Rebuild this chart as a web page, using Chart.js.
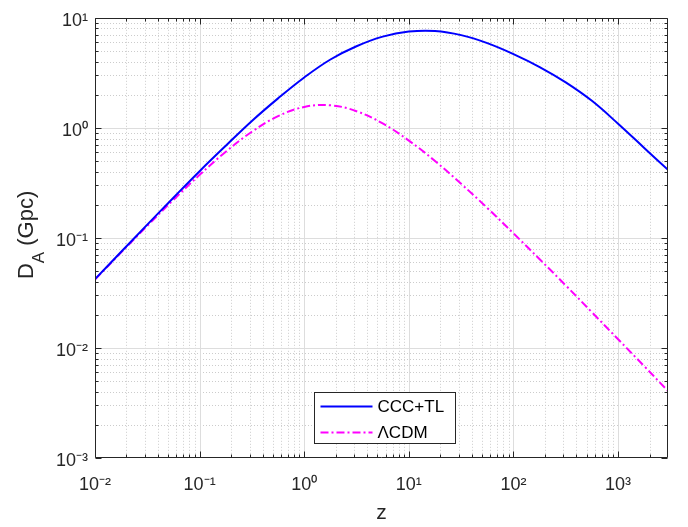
<!DOCTYPE html>
<html><head><meta charset="utf-8">
<script src="https://cdn.jsdelivr.net/npm/chart.js@4.4.0/dist/chart.umd.min.js"></script>
<style>html,body{margin:0;padding:0;background:#fff;}#wrap{width:688px;height:527px;position:relative;}</style>
</head><body><div id="wrap"><canvas id="c" width="688" height="527"></canvas></div>
<script>
// ---- data ----
const zValues = [0.01, 0.0178, 0.0316, 0.0562, 0.1, 0.178, 0.316, 0.562, 1, 1.78, 3.16, 5.62, 10, 17.8, 31.6, 56.2, 100, 178, 316, 562, 1000, 1778, 3000];
const cccTL   = [0.0422, 0.0748, 0.132, 0.232, 0.404, 0.688, 1.155, 1.853, 2.87, 4.18, 5.51, 6.74, 7.50, 7.59, 6.96, 5.89, 4.68, 3.57, 2.59, 1.76, 1.09, 0.657, 0.415];
const lcdm    = [0.0419, 0.0738, 0.1287, 0.2218, 0.374, 0.607, 0.922, 1.276, 1.548, 1.603, 1.416, 1.096, 0.766, 0.499, 0.310, 0.187, 0.110, 0.0640, 0.0370, 0.0211, 0.0120, 0.00683, 0.00406];
const seriesNames = ['CCC+TL', 'ΛCDM'];
const xTickValues = [0.01, 0.1, 1, 10, 100, 1000];
const xTickLabels = ['10⁻²', '10⁻¹', '10⁰', '10¹', '10²', '10³'];
const yTickValues = [0.001, 0.01, 0.1, 1, 10];
const yTickLabels = ['10⁻³', '10⁻²', '10⁻¹', '10⁰', '10¹'];
const xTitle = 'z';
const yTitleMain = 'D', yTitleSub = 'A', yTitleRest = ' (Gpc)';
const xMin = 0.01, xMax = 3000, yMin = 0.001, yMax = 10;

// ---- helpers ----
const FONT = '"Liberation Sans", Arial, Helvetica, sans-serif';
function minorValues(min, max) {
  const out = [];
  for (let d = Math.floor(Math.log10(min)); d <= Math.ceil(Math.log10(max)); d++) {
    for (let k = 2; k <= 9; k++) { const v = k * Math.pow(10, d); if (v > min * 1.0001 && v < max * 0.9999) out.push(v); }
  }
  return out;
}
const xMinor = minorValues(xMin, xMax), yMinor = minorValues(yMin, yMax);

const framePlugin = {
  id: 'frame',
  beforeDatasetsDraw(chart) {
    const { ctx, chartArea: a, scales: { x, y } } = chart;
    ctx.save();
    ctx.beginPath(); ctx.rect(a.left, a.top, a.right - a.left, a.bottom - a.top); ctx.clip();
    ctx.lineWidth = 1;
    ctx.strokeStyle = '#cccccc'; ctx.setLineDash([1, 2]);
    ctx.beginPath();
    xMinor.forEach(v => { const p = Math.round(x.getPixelForValue(v)) + 0.5; ctx.moveTo(p, a.top); ctx.lineTo(p, a.bottom); });
    yMinor.forEach(v => { const p = Math.round(y.getPixelForValue(v)) + 0.5; ctx.moveTo(a.left, p); ctx.lineTo(a.right, p); });
    ctx.stroke();
    ctx.setLineDash([]); ctx.strokeStyle = '#dddddd';
    ctx.beginPath();
    xTickValues.forEach(v => { const p = Math.round(x.getPixelForValue(v)) + 0.5; ctx.moveTo(p, a.top); ctx.lineTo(p, a.bottom); });
    yTickValues.forEach(v => { const p = Math.round(y.getPixelForValue(v)) + 0.5; ctx.moveTo(a.left, p); ctx.lineTo(a.right, p); });
    ctx.stroke();
    ctx.restore();
  },
  afterDatasetsDraw(chart) {
    const { ctx, chartArea: a, scales: { x, y } } = chart;
    ctx.save();
    ctx.strokeStyle = '#262626'; ctx.lineWidth = 1;
    const L = Math.round(a.left) + 0.5, R = Math.round(a.right) - 0.5, T = Math.round(a.top) + 0.5, B = Math.round(a.bottom) - 0.5;
    ctx.beginPath(); ctx.rect(L, T, R - L, B - T); ctx.stroke();
    ctx.beginPath();
    const tickX = (v, len) => { const p = Math.round(x.getPixelForValue(v)) + 0.5; ctx.moveTo(p, B); ctx.lineTo(p, B - len); ctx.moveTo(p, T); ctx.lineTo(p, T + len); };
    const tickY = (v, len) => { const p = Math.round(y.getPixelForValue(v)) + 0.5; ctx.moveTo(L, p); ctx.lineTo(L + len, p); ctx.moveTo(R, p); ctx.lineTo(R - len, p); };
    xTickValues.forEach(v => tickX(v, 6)); xMinor.forEach(v => tickX(v, 3));
    yTickValues.forEach(v => tickY(v, 6)); yMinor.forEach(v => tickY(v, 3));
    ctx.stroke();

    // legend
    const lx = 314.5, ly = 392.5, lw = 141, lh = 51;
    ctx.fillStyle = '#ffffff'; ctx.fillRect(lx, ly, lw, lh);
    ctx.strokeStyle = '#262626'; ctx.strokeRect(lx, ly, lw, lh);
    chart.data.datasets.forEach((ds, i) => {
      const yy = ly + 14 + i * 26;
      ctx.strokeStyle = ds.borderColor; ctx.lineWidth = ds.borderWidth;
      ctx.setLineDash(ds.borderDash || []);
      ctx.beginPath(); ctx.moveTo(lx + 6, yy); ctx.lineTo(lx + 58, yy); ctx.stroke();
      ctx.setLineDash([]);
      ctx.fillStyle = '#000000'; ctx.font = '17px ' + FONT; ctx.textBaseline = 'middle'; ctx.textAlign = 'left';
      ctx.fillText(ds.label, lx + 63, yy + 1);
    });

    // y axis title with subscript
    ctx.fillStyle = '#262626';
    const cy = (a.top + a.bottom) / 2 - 3;
    ctx.translate(33, cy); ctx.rotate(-Math.PI / 2);
    ctx.textBaseline = 'alphabetic'; ctx.textAlign = 'left';
    const fMain = '22px ' + FONT, fSub = '17px ' + FONT;
    ctx.font = fMain; const w1 = ctx.measureText(yTitleMain).width; const w3 = ctx.measureText(yTitleRest).width;
    ctx.font = fSub; const w2 = ctx.measureText(yTitleSub).width;
    let sx = -(w1 + w2 + w3) / 2;
    ctx.font = fMain; ctx.fillText(yTitleMain, sx, 0); sx += w1;
    ctx.font = fSub; ctx.fillText(yTitleSub, sx, 11); sx += w2;
    ctx.font = fMain; ctx.fillText(yTitleRest, sx, 0);
    ctx.restore();
  }
};

new Chart(document.getElementById('c'), {
  type: 'line',
  data: {
    datasets: [
      { label: seriesNames[0], data: zValues.map((z, i) => ({ x: z, y: cccTL[i] })), borderColor: '#0000ff', borderWidth: 2, pointRadius: 0, tension: 0.4, fill: false },
      { label: seriesNames[1], data: zValues.map((z, i) => ({ x: z, y: lcdm[i] })), borderColor: '#ff00ff', borderWidth: 2, borderDash: [8, 3, 2, 3], pointRadius: 0, tension: 0.4, fill: false }
    ]
  },
  options: {
    responsive: false, animation: false, devicePixelRatio: 1,
    layout: { padding: { left: 0, right: 20, top: 15, bottom: 0 } },
    plugins: { legend: { display: false }, tooltip: { enabled: false } },
    scales: {
      x: {
        type: 'logarithmic', min: xMin, max: xMax,
        afterBuildTicks: s => { s.ticks = xTickValues.map(v => ({ value: v })); },
        afterFit: s => { s.height = 69; },
        ticks: { autoSkip: false, maxRotation: 0, padding: 16, color: '#262626', font: { family: FONT, size: 18 },
          callback: (v) => { const i = xTickValues.findIndex(t => Math.abs(t - v) / t < 1e-6); return i >= 0 ? xTickLabels[i] : ''; } },
        grid: { display: false, drawTicks: false }, border: { display: false },
        title: { display: true, text: xTitle, color: '#262626', font: { family: FONT, size: 21 }, padding: { top: 0, bottom: 1 } }
      },
      y: {
        type: 'logarithmic', min: yMin, max: yMax,
        afterBuildTicks: s => { s.ticks = yTickValues.map(v => ({ value: v })); },
        afterFit: s => { s.width = 95; },
        ticks: { autoSkip: false, padding: 7, labelOffset: 3, color: '#262626', font: { family: FONT, size: 18 },
          callback: (v) => { const i = yTickValues.findIndex(t => Math.abs(t - v) / t < 1e-6); return i >= 0 ? yTickLabels[i] : ''; } },
        grid: { display: false, drawTicks: false }, border: { display: false },
        title: { display: false }
      }
    }
  },
  plugins: [framePlugin]
});
</script></body></html>
